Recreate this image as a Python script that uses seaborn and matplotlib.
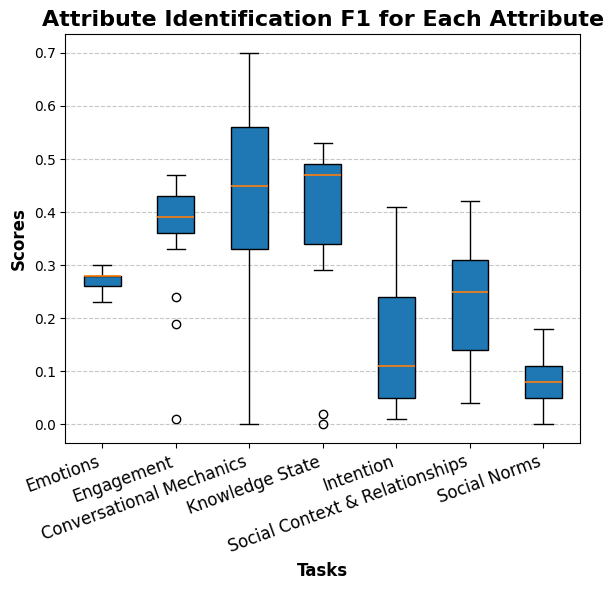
import numpy as np
import pandas as pd
import seaborn as sns
import matplotlib.pyplot as plt

tasks = ["Emotions", "Engagement", "Conversational Mechanics", "Knowledge State",
         "Intention", "Social Context & Relationships", "Social Norms"]

# scores per attribute
emotions = [0.23, 0.26, 0.28, 0.28, 0.30]
engagement = [0.01, 0.19, 0.24, 0.33, 0.36, 0.37, 0.38, 0.39, 0.39,
              0.40, 0.41, 0.42, 0.43, 0.44, 0.45, 0.46, 0.47]
conv_mechanics = [0.0, 0.33, 0.45, 0.56, 0.70]
knowledge_state = [0.0, 0.02, 0.29, 0.34, 0.40, 0.45, 0.47,
                   0.48, 0.485, 0.49, 0.50, 0.52, 0.53]
intention = [0.01, 0.05, 0.11, 0.24, 0.41]
social_context = [0.04, 0.14, 0.25, 0.31, 0.42]
social_norms = [0.0, 0.05, 0.08, 0.11, 0.18]

scores = [emotions, engagement, conv_mechanics, knowledge_state,
          intention, social_context, social_norms]

df = pd.DataFrame({
    "Tasks": [t for t, vals in zip(tasks, scores) for _ in vals],
    "Scores": [v for vals in scores for v in vals],
})

fig = plt.figure(figsize=(6.13, 5.9), dpi=100)
ax = fig.add_subplot(111)
fig.subplots_adjust(left=0.1068, right=0.9465, top=0.9419, bottom=0.2492)

sns.boxplot(data=df, x="Tasks", y="Scores", order=tasks, ax=ax,
            color="#1f77b4", saturation=1, width=0.5, linecolor="black",
            linewidth=1, whis=1.6,
            medianprops={"color": "#ff7f0e", "linewidth": 1.2},
            flierprops={"marker": "o", "markerfacecolor": "none",
                        "markeredgecolor": "black", "markersize": 6})

ax.set_title("Attribute Identification F1 for Each Attribute",
             fontsize=16, fontweight="bold")
ax.set_xlabel("Tasks", fontsize=12, fontweight="bold")
ax.set_ylabel("Scores", fontsize=12, fontweight="bold")
ax.set_xticks(range(len(tasks)))
ax.set_xticklabels(tasks, rotation=20, ha="right", fontsize=12)
ax.grid(axis="y", linestyle="--", alpha=0.7)
ax.set_axisbelow(True)

fig.savefig("out.png", dpi=100)
